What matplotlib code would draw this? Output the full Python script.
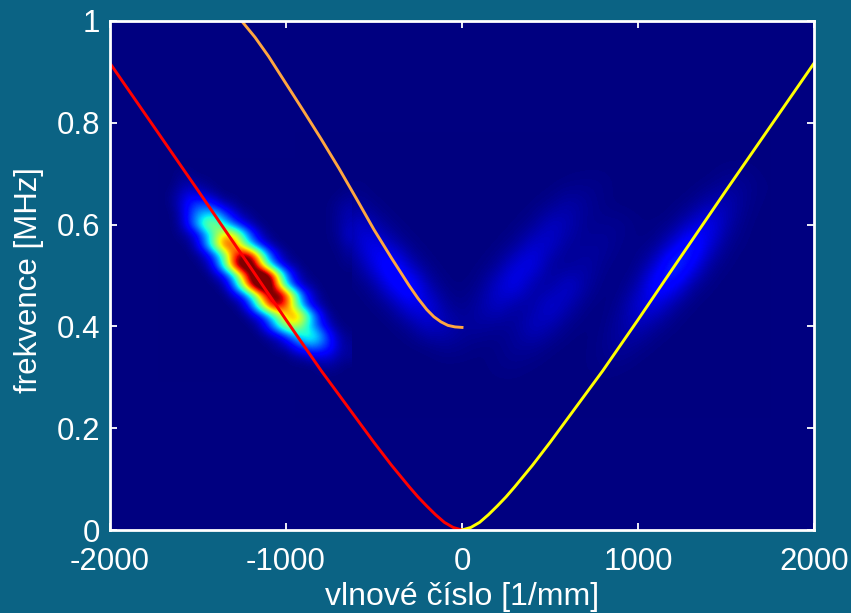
import numpy as np
from matplotlib import pyplot as plt

plt.rcParams['font.family'] = ['Liberation Sans', 'DejaVu Sans']

x_ticks = [-2000, -1000, 0, 1000, 2000]
x_tick_labels = ['-2000', '-1000', '0', '1000', '2000']
y_ticks = [0, 0.2, 0.4, 0.6, 0.8, 1]
y_tick_labels = ['0', '0.2', '0.4', '0.6', '0.8', '1']

# dispersion curves
mode_k = [0, 50, 100, 150, 200, 250, 300, 400, 500, 600, 700, 800, 1000, 1200, 1500, 2000]
mode_f = [0, 0.005, 0.015, 0.030, 0.047, 0.065, 0.085, 0.127, 0.172, 0.219, 0.266, 0.313, 0.413, 0.515, 0.667, 0.917]
red_k = [-k for k in mode_k]
orange_k = [0, -40, -80, -120, -160, -200, -250, -300, -400, -500, -600, -700, -800, -900, -1000, -1100, -1176, -1252]
orange_f = [0.398, 0.399, 0.402, 0.409, 0.419, 0.433, 0.455, 0.480, 0.534, 0.590, 0.651, 0.711, 0.768, 0.823, 0.877, 0.931, 0.968, 1]

# strong blob, step 50 in k and 0.02 in f, top row first
blob_k = [-1700 + 50 * i for i in range(22)]
blob_f = [0.72 - 0.02 * i for i in range(22)]
blob_rows = [
    [0, 0, 0, 0, 0, 0, 0, 0, 0, 0, 0, 0, 0, 0, 0, 0, 0, 0, 0, 0, 0, 0],
    [0, 0, 1, 1, 0, 0, 0, 0, 0, 0, 0, 0, 0, 0, 0, 0, 0, 0, 0, 0, 0, 0],
    [0, 0, 2, 3, 2, 1, 0, 0, 0, 0, 0, 0, 0, 0, 0, 0, 0, 0, 0, 0, 0, 0.5],
    [0, 1, 4, 7, 6, 4, 2, 0, 0, 0, 0, 0, 0, 0, 0, 0, 0, 0, 0, 0, 0.5, 1],
    [0, 1, 5, 11, 15, 14, 9, 4, 2, 0, 0, 0, 0, 0, 0, 0, 0, 0, 0, 0.5, 1.5, 2.5],
    [0, 0, 4, 12, 22, 27, 26, 16, 8, 3, 1, 0, 0, 0, 0, 0, 0, 0, 0, 0.5, 2, 3.5],
    [0, 0, 3, 12, 25, 42, 43, 30, 18, 9, 4, 1, 0, 0, 0, 0, 0, 0, 0, 0.5, 2, 4],
    [0, 0, 1, 4, 10, 23, 40, 56, 54, 36, 17, 6, 1, 0, 0, 0, 0, 0, 0, 0.5, 2, 5],
    [0, 0, 0, 1, 8, 22, 47, 68, 70, 45, 26, 12, 5, 1, 0, 0, 0, 0, 0, 0.2, 1.1, 3.5],
    [0, 0, 0, 0, 2, 7, 18, 38, 64, 84, 76, 50, 22, 8, 2, 0, 0, 0, 0, 0, 0.5, 2],
    [0, 0, 0, 0, 0, 3, 13, 36, 70, 95, 95, 63, 33, 14, 5, 2, 0, 0, 0, 0, 0.2, 1],
    [0, 0, 0, 0, 0, 0, 4, 10, 26, 54, 85, 100, 88, 56, 24, 8, 2, 0, 0, 0, 0, 0],
    [0, 0, 0, 0, 0, 0, 0, 4, 17, 44, 76, 98, 98, 62, 30, 12, 4, 2, 0, 0, 0, 0],
    [0, 0, 0, 0, 0, 0, 0, 0, 5, 11, 27, 52, 78, 92, 74, 44, 17, 6, 1, 0, 0, 0],
    [0, 0, 0, 0, 0, 0, 0, 0, 0, 4, 16, 40, 66, 80, 68, 44, 21, 8, 3, 0, 0, 0],
    [0, 0, 0, 0, 0, 0, 0, 0, 0, 0, 4, 9, 21, 38, 56, 64, 50, 26, 10, 2, 0, 0],
    [0, 0, 0, 0, 0, 0, 0, 0, 0, 0, 0, 4, 13, 29, 44, 49, 38, 23, 12, 5, 1, 0],
    [0, 0, 0, 0, 0, 0, 0, 0, 0, 0, 0, 0, 3, 5, 13, 23, 32, 34, 24, 11, 4, 1],
    [0, 0, 0, 0, 0, 0, 0, 0, 0, 0, 0, 0, 0, 2, 4, 10, 16, 20, 17, 12, 5, 2],
    [0, 0, 0, 0, 0, 0, 0, 0, 0, 0, 0, 0, 0, 0, 0, 2, 3, 6, 7, 6, 3, 2],
    [0, 0, 0, 0, 0, 0, 0, 0, 0, 0, 0, 0, 0, 0, 0, 0, 0, 0, 2, 2, 1, 0],
    [0, 0, 0, 0, 0, 0, 0, 0, 0, 0, 0, 0, 0, 0, 0, 0, 0, 0, 0, 0, 0, 0],
]

# weak blobs, step 100 in k and 0.04 in f, top row first
weak_k = [-900 + 100 * i for i in range(27)]
weak_f = [0.76 - 0.04 * i for i in range(14)]
weak_rows = [
    [0, 0, 0, 0, 0, 0, 0, 0, 0, 0, 0, 0, 0, 0, 0, 0, 0, 0, 0, 0, 0, 0, 0, 0, 0, 0, 0],
    [0, 0, 0, 0, 0, 0, 0, 0, 0, 0, 0, 0, 0, 0, 0, 0, 0, 0, 0, 0, 0, 0, 0, 0, 0.2, 0.3, 0],
    [0, 0, 0, 0.5, 0, 0, 0, 0, 0, 0, 0, 0, 0, 0, 0, 0.5, 1, 1, 0, 0, 0, 0, 0, 0.4, 2, 2, 0.4],
    [0, 0, 0, 2.1, 0.4, 0, 0, 0, 0, 0, 0, 0, 0, 0.2, 1.2, 3.8, 2.4, 0.5, 0, 0, 0, 0.1, 0.9, 4.2, 5.4, 1.5, 0.2],
    [0, 0, 0, 8, 3.6, 0.6, 0, 0, 0, 0, 0, 0, 0.2, 1.6, 6.3, 5, 1.3, 1.5, 1.8, 0.5, 0.3, 1.2, 6.5, 11.6, 4, 0.6, 0],
    [0, 0, 0, 6.2, 11.7, 4.4, 0.7, 0, 0, 0, 0, 0.2, 1.8, 7.2, 7.2, 2.1, 2, 2.9, 1, 0.6, 1.3, 8, 18, 8.2, 1.3, 0.3, 0],
    [0, 0, 0, 1.9, 9.8, 17, 4.9, 0.7, 0, 0, 0.2, 1.9, 8.5, 10.6, 2, 1.5, 3.9, 1.6, 0.4, 1.1, 7.5, 21, 12.5, 2.2, 0.4, 0, 0],
    [0, 0, 0, 0.2, 2.5, 12, 17, 4.2, 0.5, 0.1, 1.4, 7.3, 11.4, 3, 2.5, 8, 3.4, 0.5, 0.5, 4, 16, 12.6, 2.6, 0.4, 0, 0, 0],
    [0, 0, 0, 0, 0.2, 2.5, 10, 10.5, 2.7, 0.9, 3.7, 6.9, 2.5, 3, 8.5, 4.5, 0.8, 0.2, 2, 8.6, 9, 2.3, 0.2, 0, 0, 0, 0],
    [0, 0, 0, 0, 0, 0.1, 1.8, 6.8, 5.8, 2.6, 3.1, 1.6, 2, 6.6, 4.2, 0.9, 0.1, 0.7, 3.6, 5.6, 1.8, 0.3, 0, 0, 0, 0, 0],
    [0, 0, 0, 0, 0, 0, 0, 0.3, 1.8, 1.3, 0.3, 0.6, 2.5, 2.2, 0.5, 0, 0.2, 1.3, 3, 1.1, 0.1, 0, 0, 0, 0, 0, 0],
    [0, 0, 0, 0, 0, 0, 0, 0, 0, 0, 0.1, 0.9, 0.9, 0.2, 0, 0, 0.4, 1, 0.5, 0, 0, 0, 0, 0, 0, 0, 0],
    [0, 0, 0, 0, 0, 0, 0, 0, 0, 0, 0, 0, 0, 0, 0, 0, 0, 0, 0, 0, 0, 0, 0, 0, 0, 0, 0],
    [0, 0, 0, 0, 0, 0, 0, 0, 0, 0, 0, 0, 0, 0, 0, 0, 0, 0, 0, 0, 0, 0, 0, 0, 0, 0, 0],
]

bg_color = '#0b6384'
cmap = plt.get_cmap('jet')

fig = plt.figure(figsize=(8.51, 6.13), dpi=100, facecolor=bg_color)
ax = fig.add_axes([110 / 851, (613 - 530) / 613, 704 / 851, 509 / 613])
ax.set_facecolor(cmap(0))


def draw_grid(rows, ks, fs, top):
    dk = (ks[1] - ks[0]) / 2
    df = (fs[0] - fs[1]) / 2
    ax.imshow(np.array(rows, dtype=float), cmap=cmap, vmin=0, vmax=top, aspect='auto',
              interpolation='bicubic', origin='upper',
              extent=[ks[0] - dk, ks[-1] + dk, fs[-1] - df, fs[0] + df])


draw_grid(weak_rows, weak_k, weak_f, 100)
draw_grid(blob_rows, blob_k, blob_f, 82)

ax.plot(red_k, mode_f, color='#ff0000', lw=2.1)
ax.plot(mode_k, mode_f, color='#ffff00', lw=2.1)
ax.plot(orange_k, orange_f, color='#ffa640', lw=2.1)

ax.set_xlim(-2000, 2000)
ax.set_ylim(0, 1)
ax.set_xticks(x_ticks)
ax.set_xticklabels(x_tick_labels)
ax.set_yticks(y_ticks)
ax.set_yticklabels(y_tick_labels)
ax.tick_params(direction='in', length=5, width=1.3, color='white', labelcolor='white',
               labelsize=22.5, top=True, right=True)
ax.tick_params(axis='x', pad=12.5)
ax.tick_params(axis='y', pad=7)
for s in ax.spines.values():
    s.set_color('white')
    s.set_linewidth(2)
ax.set_xlabel('vlnové číslo [1/mm]', color='white', fontsize=23, labelpad=3.5)
ax.set_ylabel('frekvence [MHz]', color='white', fontsize=22.5)
ax.yaxis.set_label_coords((44 - 110) / 704, (530 - 280) / 509)

plt.savefig('out.png', dpi=100, facecolor=bg_color)
